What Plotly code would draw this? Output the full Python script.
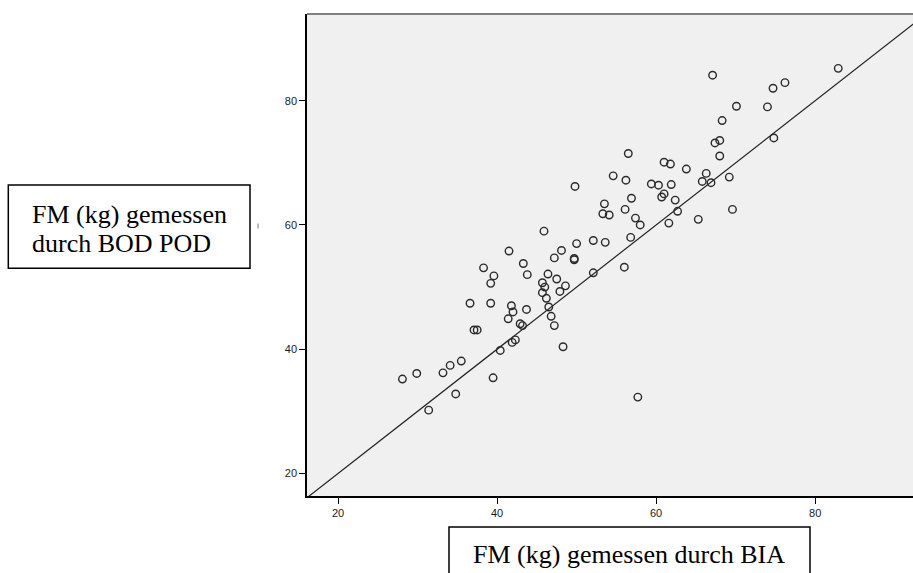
import plotly.graph_objects as go

# FM (kg) measured by BIA (x) and by BOD POD (y)
bia_fm = [82.9, 67.1, 76.2, 74.7, 70.1, 74.0, 68.3, 68.0, 67.4, 74.8,
          56.5, 68.0, 61.0, 61.8, 63.8, 54.6, 56.2, 66.3, 69.2, 59.4,
          60.3, 61.9, 65.8, 66.9, 49.8, 61.0, 60.7, 56.9, 62.4, 53.5,
          56.1, 62.7, 53.3, 54.1, 57.4, 58.0, 61.6, 65.3, 69.6, 56.8,
          50.0, 52.1, 53.6, 48.1, 49.7, 49.7, 56.0, 52.1, 48.6, 45.9,
          47.2, 41.5, 43.3, 38.3, 39.6, 39.2, 43.8, 46.4, 47.5, 45.7,
          46.0, 45.7, 46.2, 47.9, 46.5, 46.8, 47.2, 48.3, 57.7, 36.6,
          39.2, 41.8, 42.0, 43.7, 41.4, 42.9, 43.2, 37.1, 37.5, 42.3,
          41.9, 40.4, 35.5, 34.1, 33.2, 29.9, 28.1, 39.5, 34.8, 31.4]
bodpod_fm = [85.2, 84.1, 82.9, 82.0, 79.1, 79.0, 76.8, 73.6, 73.2, 74.0,
             71.5, 71.1, 70.1, 69.8, 69.0, 67.9, 67.2, 68.3, 67.7, 66.6,
             66.4, 66.5, 67.0, 66.8, 66.2, 65.0, 64.5, 64.3, 64.0, 63.4,
             62.5, 62.2, 61.8, 61.6, 61.1, 60.0, 60.3, 60.9, 62.5, 58.0,
             57.0, 57.5, 57.2, 55.9, 54.6, 54.4, 53.2, 52.3, 50.2, 59.0,
             54.7, 55.8, 53.8, 53.1, 51.8, 50.6, 52.0, 52.1, 51.3, 50.7,
             50.0, 49.1, 48.2, 49.3, 46.8, 45.3, 43.8, 40.4, 32.3, 47.4,
             47.4, 47.0, 46.0, 46.4, 44.9, 44.1, 43.8, 43.1, 43.1, 41.5,
             41.1, 39.8, 38.1, 37.4, 36.2, 36.1, 35.2, 35.4, 32.8, 30.2]
identity_line = [0, 100]
x_ticks = [20, 40, 60, 80]
y_ticks = [20, 40, 60, 80]
y_title_lines = ["FM (kg) gemessen", "durch BOD POD"]
x_title = "FM (kg) gemessen durch BIA"

W, H = 913, 573
L, R, T, B = 307, 0, 14, 77
PW = W - L - R
PH = H - T - B


def px(xp):
    return (xp - L) / PW


def py(yp):
    return (H - B - yp) / PH


fig = go.Figure()
fig.add_trace(go.Scatter(
    x=identity_line, y=identity_line, mode="lines",
    line=dict(color="#222222", width=1.2), hoverinfo="skip", showlegend=False))
fig.add_trace(go.Scatter(
    x=bia_fm, y=bodpod_fm, mode="markers",
    marker=dict(symbol="circle-open", size=7.5, color="#2a2a2a", line=dict(width=1.4)),
    showlegend=False))

tick_font = dict(family="Liberation Sans, Arial, sans-serif", size=11, color="#1a1a1a")
axis_common = dict(showgrid=False, zeroline=False, showline=True, linecolor="black",
                   linewidth=1.5, ticks="outside", ticklen=6, tickwidth=1,
                   tickcolor="black", tickfont=tick_font)

fig.update_layout(
    width=W, height=H,
    margin=dict(l=L, r=R, t=T, b=B, pad=0),
    paper_bgcolor="white", plot_bgcolor="#F0F0F0",
    xaxis=dict(range=[16.1, 92.3], tickvals=x_ticks, **axis_common),
    yaxis=dict(range=[16.38, 93.95], tickvals=y_ticks, **axis_common),
    showlegend=False,
)

serif = dict(family="Liberation Serif, Times New Roman, serif", size=26, color="black")

shapes = [
    dict(type="line", xref="paper", yref="paper", x0=0, x1=1, y0=1, y1=1,
         line=dict(color="#808080", width=2)),
    dict(type="rect", xref="paper", yref="paper",
         x0=px(8.3), x1=px(250), y0=py(268.3), y1=py(185),
         line=dict(color="black", width=1.5), fillcolor="white"),
    dict(type="rect", xref="paper", yref="paper",
         x0=px(449), x1=px(810), y0=py(600), y1=py(527),
         line=dict(color="black", width=1.5), fillcolor="white"),
    dict(type="line", xref="paper", yref="paper",
         x0=px(258), x1=px(258), y0=py(228.5), y1=py(223.5),
         line=dict(color="#777777", width=1)),
]
fig.update_layout(shapes=shapes)

annotations = [
    dict(text=y_title_lines[0], xref="paper", yref="paper", x=px(30), y=py(215),
         xanchor="left", yanchor="middle", showarrow=False, font=serif),
    dict(text=y_title_lines[1], xref="paper", yref="paper", x=px(30), y=py(243),
         xanchor="left", yanchor="middle", showarrow=False, font=serif),
    dict(text=x_title, xref="paper", yref="paper", x=px(629), y=py(554),
         xanchor="center", yanchor="middle", showarrow=False, font=serif),
]
fig.update_layout(annotations=annotations)

fig.write_html("out.html")
